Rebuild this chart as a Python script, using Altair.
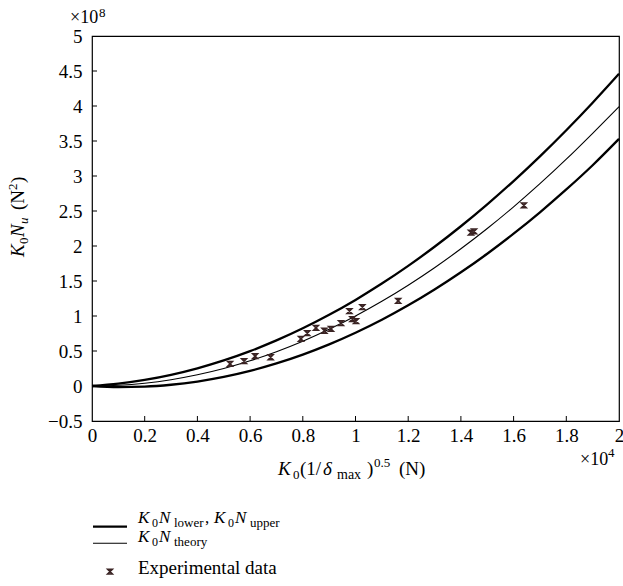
import altair as alt
import pandas as pd

# ---- data (x in units of 1e4 N, y in units of 1e8 N^2) ----
curve_x = [0.0, 0.1, 0.2, 0.3, 0.4, 0.5, 0.6, 0.7, 0.8, 0.9, 1.0,
           1.1, 1.2, 1.3, 1.4, 1.5, 1.6, 1.7, 1.8, 1.9, 2.0]
upper_y = [0.0, 0.033, 0.086, 0.159, 0.252, 0.365, 0.498, 0.651, 0.824, 1.017, 1.23,
           1.463, 1.716, 1.989, 2.282, 2.595, 2.928, 3.281, 3.654, 4.047, 4.46]
theory_y = [0.0, 0.01, 0.04, 0.09, 0.16, 0.25, 0.36, 0.49, 0.64, 0.81, 1.0,
            1.21, 1.44, 1.69, 1.96, 2.25, 2.56, 2.89, 3.24, 3.61, 3.99]
lower_y = [0.0, -0.014, -0.008, 0.018, 0.064, 0.13, 0.216, 0.322, 0.448, 0.594, 0.76,
           0.946, 1.152, 1.378, 1.624, 1.89, 2.176, 2.482, 2.808, 3.154, 3.53]

exp_x = [0.524, 0.577, 0.619, 0.678, 0.793, 0.817, 0.850, 0.882, 0.907, 0.945,
         0.977, 0.988, 1.002, 1.026, 1.162, 1.438, 1.450, 1.639]
exp_y = [0.317, 0.354, 0.426, 0.411, 0.674, 0.754, 0.831, 0.789, 0.817, 0.897,
         1.069, 0.954, 0.926, 1.126, 1.215, 2.19, 2.21, 2.58]

x_ticks = [0.0, 0.2, 0.4, 0.6, 0.8, 1.0, 1.2, 1.4, 1.6, 1.8, 2.0]
y_ticks = [-0.5, 0.0, 0.5, 1.0, 1.5, 2.0, 2.5, 3.0, 3.5, 4.0, 4.5, 5.0]

# ---- layout ----
PL, PT, W, H = 92, 36, 527, 385
FONT = "Liberation Serif"
XS = alt.Scale(domain=[0, 2], nice=False, zero=False)
YS = alt.Scale(domain=[-0.5, 5], nice=False, zero=False)
XA = alt.Axis(values=x_ticks, format=".1~f", title=None)
YA = alt.Axis(values=y_ticks, format=".1~f", title=None)


def XE():
    return alt.X("x:Q", scale=XS, axis=XA)


def YE():
    return alt.Y("y:Q", scale=YS, axis=YA)


curves = pd.DataFrame({"x": curve_x * 3,
                       "y": upper_y + theory_y + lower_y,
                       "c": ["upper"] * len(curve_x) + ["theory"] * len(curve_x) + ["lower"] * len(curve_x)})
thick = curves[curves.c != "theory"]
thin = curves[curves.c == "theory"]
pts = pd.DataFrame({"x": exp_x, "y": exp_y})

thick_lines = alt.Chart(thick).mark_line(color="black", strokeWidth=2.3, interpolate="monotone").encode(
    x=XE(), y=YE(), detail="c:N")
thin_line = alt.Chart(thin).mark_line(color="black", strokeWidth=1.1, interpolate="monotone").encode(
    x=XE(), y=YE())

MARK = "M-1,-1L1,-1L-1,1L1,1Z"
points = alt.Chart(pts).mark_point(shape=MARK, size=22, filled=False, strokeWidth=1.6,
                                   color="#3a2323", opacity=1).encode(x=XE(), y=YE())

# inward ticks
xt = pd.DataFrame({"x": x_ticks[1:-1], "y": [-0.5] * (len(x_ticks) - 2),
                   "y2": [-0.5 + 5 / 70] * (len(x_ticks) - 2)})
x_tick_rules = alt.Chart(xt).mark_rule(color="black", strokeWidth=1).encode(
    x=XE(), y=YE(), y2="y2:Q")
yt = pd.DataFrame({"y": y_ticks[1:-1], "x": [0.0] * (len(y_ticks) - 2),
                   "x2": [5 / 263.5] * (len(y_ticks) - 2)})
y_tick_rules = alt.Chart(yt).mark_rule(color="black", strokeWidth=1).encode(
    x=XE(), x2="x2:Q", y=YE())

one = pd.DataFrame({"_": [0]})


def T(s, x, y, size=19, italic=False, angle=0):
    return alt.Chart(one).mark_text(
        text=s, font=FONT, fontSize=size, fontStyle="italic" if italic else "normal",
        align="left", baseline="alphabetic", angle=angle, color="black").encode(
        x=alt.value(x - PL), y=alt.value(y - PT))


texts = [
    # x title
    T("K", 278, 475, italic=True), T("0", 293, 479, 13), T("(1/", 300, 475),
    T("δ", 323, 475, italic=True), T("max", 337, 479, 14), T(")", 367, 475),
    T("0.5", 374, 467, 13), T("(N)", 399, 475),
    # y title (rotated)
    T("K", 24, 257, italic=True, angle=270), T("0", 28, 244, 13, angle=270),
    T("N", 24, 237, italic=True, angle=270), T("u", 28, 224, 13, italic=True, angle=270),
    T("(N", 24, 210, angle=270), T("2", 17, 190, 13, angle=270), T(")", 24, 183, angle=270),
    # exponent labels
    T("×10", 70, 23, 18), T("8", 99, 17, 13),
    T("×10", 580, 465, 18), T("4", 608, 457, 13),
    # legend texts
    T("K", 138, 523, 17, italic=True), T("0", 152, 527, 12), T("N", 159, 523, 17, italic=True),
    T("lower", 174, 527, 13), T(",", 205, 523, 17),
    T("K", 214, 523, 17, italic=True), T("0", 228, 527, 12), T("N", 235, 523, 17, italic=True),
    T("upper", 250, 527, 13),
    T("K", 138, 542, 17, italic=True), T("0", 152, 546, 12), T("N", 159, 542, 17, italic=True),
    T("theory", 174, 546, 13),
    T("Experimental data", 138, 574),
]

leg_thick = alt.Chart(one).mark_rule(color="black", strokeWidth=2.3).encode(
    x=alt.value(93 - PL), x2=alt.value(127 - PL), y=alt.value(526.7 - PT))
leg_thin = alt.Chart(one).mark_rule(color="black", strokeWidth=1.1).encode(
    x=alt.value(93 - PL), x2=alt.value(127 - PL), y=alt.value(543.3 - PT))
leg_pt = alt.Chart(one).mark_point(shape=MARK, size=22, filled=False, strokeWidth=1.6,
                                   color="#3a2323", opacity=1).encode(
    x=alt.value(110 - PL), y=alt.value(571.7 - PT))

chart = alt.layer(thick_lines, thin_line, points, x_tick_rules, y_tick_rules,
                  leg_thick, leg_thin, leg_pt, *texts).properties(
    width=W, height=H,
    autosize=alt.AutoSizeParams(type="none"),
    padding={"left": PL, "top": PT, "right": 623 - PL - W, "bottom": 586 - PT - H},
    background="white",
).configure_view(stroke="black", strokeWidth=1.2).configure_axis(
    labelFont=FONT, labelFontSize=19, labelColor="black", domain=False, ticks=False,
    tickSize=0, grid=False, labelFlush=False, labelOverlap=False, labelBound=False,
).configure_axisX(labelPadding=5).configure_axisY(labelPadding=10)

chart.save("out.html", embed_options={"renderer": "svg", "actions": False})
